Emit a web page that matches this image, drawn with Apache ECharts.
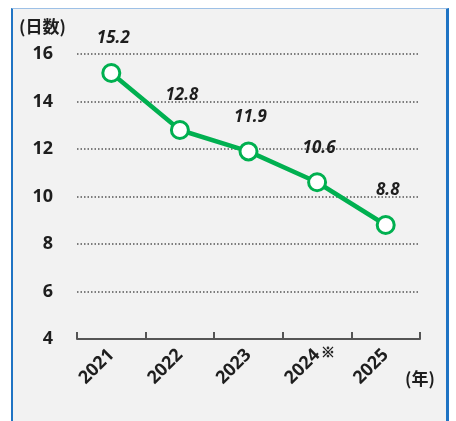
<!DOCTYPE html>
<html>
<head>
<meta charset="utf-8">
<script src="https://cdn.jsdelivr.net/npm/echarts@6/dist/echarts.min.js"></script>
<style>
  html, body { margin: 0; padding: 0; background: #fff; }
  #frame { position: absolute; left: 11px; top: 8px; width: 433px; height: 430px;
    background: #f2f2f2; border-left: 2px solid #1f74c4; border-top: 1px solid #9dc0e6; border-right: 3px solid #1f74c4; }
  #c { position: absolute; left: 0; top: 0; width: 456px; height: 421px; }
</style>
</head>
<body>
<div id="frame"></div>
<div id="c"></div>
<script>
(() => {
  "use strict";
  const years = ["2021", "2022", "2023", "2024", "2025"];
  const notes = ["", "", "", "※", ""];
  const days = [15.2, 12.8, 11.9, 10.6, 8.8];
  const yTicks = { min: 4, max: 16, step: 2 };

  const GREEN = "#00b050";
  const INK = "#1e1e1e";
  const FONT = "'Noto Sans', 'Noto Sans CJK JP', sans-serif";
  const JP = "'Noto Sans CJK JP', sans-serif";
  const chart = echarts.init(document.getElementById("c"));

  chart.setOption({
    backgroundColor: "transparent",
    animation: false,
    grid: { left: 77, right: 36, top: 54, bottom: 82 },
    xAxis: {
      type: "category",
      data: years,
      boundaryGap: true,
      axisLine: { show: true, lineStyle: { color: "#555", width: 2 } },
      axisTick: { show: true, inside: true, alignWithLabel: false, interval: 0, length: 7, lineStyle: { color: "#555", width: 2 } },
      axisLabel: {
        rotate: 45, margin: 13, interval: 0, color: INK,
        fontFamily: FONT, fontWeight: "bold", fontSize: 18,
      },
      z: 4,
    },
    yAxis: {
      type: "value",
      min: yTicks.min, max: yTicks.max, interval: yTicks.step,
      axisLine: { show: false }, axisTick: { show: false },
      axisLabel: { color: INK, fontFamily: FONT, fontWeight: "bold", fontSize: 18, margin: 24 },
      splitLine: { lineStyle: { color: "#555", width: 1.5, type: [1.5, 2] } },
    },
    series: [{
      type: "line",
      data: days,
      symbol: "circle",
      symbolSize: 17,
      lineStyle: { color: GREEN, width: 4.5 },
      itemStyle: { color: "#fff", borderColor: GREEN, borderWidth: 3 },
      label: {
        show: true, position: "top", distance: 16, offset: [2, 0],
        color: INK, fontFamily: FONT, fontStyle: "italic", fontWeight: "bold", fontSize: 17,
        formatter: p => p.value.toFixed(1),
      },
      z: 3,
    }],
  });

  // 注記(※)は年ラベルの右上に
  const marks = notes.map((n, i) => {
    if (!n) return null;
    const [x, y] = chart.convertToPixel({ seriesIndex: 0 }, [i, yTicks.min]);
    return { type: "text", x: x + 4, y: y + 6, style: { text: n, fontFamily: JP, fontWeight: "bold", fontSize: 14, fill: INK, stroke: INK, lineWidth: 0.6 } };
  }).filter(Boolean);

  chart.setOption({
    graphic: [
      { type: "text", left: 19, top: 18, style: { text: "(日数)", fontFamily: JP, fontWeight: "bold", fontSize: 17, fill: INK } },
      { type: "text", left: 405, top: 370, style: { text: "(年)", fontFamily: JP, fontWeight: "bold", fontSize: 17, fill: INK } },
      ...marks,
    ],
  });
})();
</script>
</body>
</html>
